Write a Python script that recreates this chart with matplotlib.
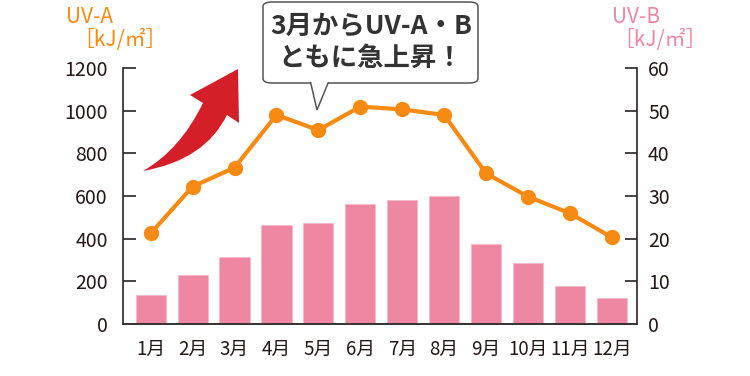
import numpy as np
import matplotlib
matplotlib.use("Agg")
import matplotlib.pyplot as plt
from matplotlib.path import Path
from matplotlib.patches import PathPatch, FancyBboxPatch, Polygon

plt.rcParams['font.family'] = ['Noto Sans CJK JP', 'DejaVu Sans']

# data
months = ['1月', '2月', '3月', '4月', '5月', '6月', '7月', '8月', '9月', '10月', '11月', '12月']
uva = [425, 644, 733, 980, 909, 1019, 1006, 980, 706, 597, 519, 406]
uvb = [6.7, 11.6, 15.6, 23.3, 23.7, 28.1, 29.1, 30.0, 18.7, 14.3, 8.8, 6.0]

ORANGE = '#f68a12'
PINK = '#ee87a2'
DARK = '#3a3535'
W, H = 750, 376


def px(x, y):
    # pixel position -> figure fraction
    return x / W, 1 - y / H


fig = plt.figure(figsize=(7.5, 3.76), dpi=100)
ax = fig.add_axes([123 / W, 1 - 324 / H, (637 - 123) / W, (324 - 68) / H])
ax2 = ax.twinx()

x = np.arange(len(months))
ax2.bar(x, uvb, width=0.72, color=PINK, edgecolor='#f6b8c8', linewidth=0.6)
ax.plot(x, uva, color=ORANGE, lw=3, marker='o', ms=10, zorder=5)

ax.set_zorder(ax2.get_zorder() + 1)
ax.patch.set_visible(False)

ax.set_xlim(-0.66, 11.6)
ax.set_ylim(0, 1200)
ax2.set_ylim(0, 60)
ax.set_yticks(range(0, 1201, 200))
ax2.set_yticks(range(0, 61, 10))
ax.set_xticks(x)
ax.set_xticklabels(months)

for a in (ax, ax2):
    for s in a.spines.values():
        s.set_color(DARK)
        s.set_linewidth(1.3)
    a.spines['top'].set_visible(False)
ax.spines['right'].set_visible(False)
ax2.spines['left'].set_visible(False)

ax.tick_params(axis='y', direction='in', length=9, width=1.3, color=DARK,
               labelsize=14, labelcolor='#231815', pad=11)
ax2.tick_params(axis='y', direction='in', length=9, width=1.3, color=DARK,
                labelsize=14, labelcolor='#231815', pad=8)
ax.tick_params(axis='x', length=0, labelsize=13.5, labelcolor='#231815', pad=11)

# axis titles
fig.text(*px(66, 17), 'UV-A', color=ORANGE, fontsize=15, ha='left', va='center')
fig.text(*px(73, 40), '［kJ/㎡］', color=ORANGE, fontsize=15, ha='left', va='center')
fig.text(*px(612, 17), 'UV-B', color=PINK, fontsize=15, ha='left', va='center')
fig.text(*px(613, 40), '［kJ/㎡］', color=PINK, fontsize=15, ha='left', va='center')

# red arrow
verts = [px(143, 171), px(205, 160), px(227, 115),
         px(239, 123), px(238, 69), px(190, 95),
         px(203, 103), px(180, 150), px(143, 171), px(143, 171)]
codes = [Path.MOVETO, Path.CURVE3, Path.CURVE3,
         Path.LINETO, Path.LINETO, Path.LINETO,
         Path.LINETO, Path.CURVE3, Path.CURVE3, Path.CLOSEPOLY]
arrow = PathPatch(Path(verts, codes), transform=fig.transFigure,
                  facecolor='#d41e28', edgecolor='none')
fig.patches.append(arrow)

# callout box
bx0, by0 = px(263, 83)
bx1, by1 = px(478, 2)
box = FancyBboxPatch((bx0, by0), bx1 - bx0, by1 - by0,
                     boxstyle='round,pad=0,rounding_size=0.012',
                     transform=fig.transFigure, facecolor='white',
                     edgecolor='#555555', linewidth=1.1, zorder=10)
fig.patches.append(box)
tail = Polygon([px(310.5, 82), px(317, 110), px(328.5, 82)], closed=False,
               transform=fig.transFigure, facecolor='white',
               edgecolor='#555555', linewidth=1.1, zorder=11)
fig.patches.append(tail)
fig.text(*px(371, 42), '3月からUV-A・B\nともに急上昇！', fontsize=19,
         fontweight='bold', color='#333333', ha='center', va='center',
         linespacing=1.25, zorder=12)

fig.savefig('out.png', dpi=100)
